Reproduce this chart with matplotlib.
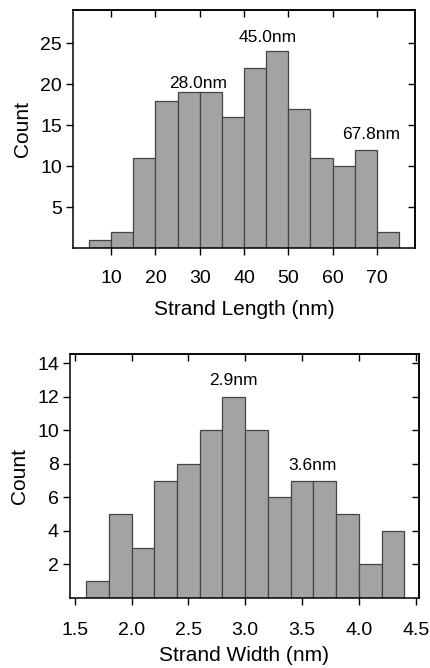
import numpy as np
import matplotlib
matplotlib.use('Agg')
import matplotlib.pyplot as plt

plt.rcParams['font.family'] = ['Liberation Sans', 'DejaVu Sans']

# ── Data ─────────────────────────────────────────────────────────────
length_edges = [5, 10, 15, 20, 25, 30, 35, 40, 45, 50, 55, 60, 65, 70, 75]
length_counts = [1, 2, 11, 18, 19, 19, 16, 22, 24, 17, 11, 10, 12, 2]
length_peaks = ['28.0nm', '45.0nm', '67.8nm']
length_peak_x = [29.6, 45.4, 68.6]
length_peak_y = [20.1, 25.7, 13.8]

width_edges = [1.6, 1.8, 2.0, 2.2, 2.4, 2.6, 2.8, 3.0, 3.2, 3.4, 3.6, 3.8, 4.0, 4.2, 4.4]
width_counts = [1, 5, 3, 7, 8, 10, 12, 10, 6, 7, 7, 5, 2, 4]
width_peaks = ['2.9nm', '3.6nm']
width_peak_x = [2.9, 3.59]
width_peak_y = [13.0, 7.9]

bar_face = '#a3a3a3'
bar_edge = '#444444'


def draw_hist(ax, edges, counts):
    edges = np.asarray(edges, dtype=float)
    ax.bar(edges[:-1], counts, width=np.diff(edges), align='edge',
           color=bar_face, edgecolor=bar_edge, linewidth=0.9)


def style_axes(ax, xpad):
    for s in ax.spines.values():
        s.set_linewidth(1.1)
    ax.tick_params(axis='x', which='major', direction='out', length=5,
                   width=1, labelsize=14, bottom=True, top=False, pad=xpad)
    ax.tick_params(axis='y', which='major', direction='out', length=5,
                   width=1, labelsize=14, left=True, right=False, pad=3)
    # inward ticks on top / right
    sec = ax.secondary_xaxis('top')
    sec.set_xticks(ax.get_xticks())
    sec.tick_params(direction='in', length=5, width=1, labeltop=False)
    sec.spines['top'].set_linewidth(1.1)
    secy = ax.secondary_yaxis('right')
    secy.set_yticks(ax.get_yticks())
    secy.tick_params(direction='in', length=5, width=1, labelright=False)
    secy.spines['right'].set_linewidth(1.1)


fig = plt.figure(figsize=(4.3, 6.68), dpi=100)

# ── Top panel: strand length ─────────────────────────────────────────
ax1 = fig.add_axes([0.1698, 0.6287, 0.7953, 0.357])
draw_hist(ax1, length_edges, length_counts)
ax1.set_xlim(1.4, 78.6)
ax1.set_ylim(0, 29.1)
ax1.set_xticks([10, 20, 30, 40, 50, 60, 70])
ax1.set_yticks([5, 10, 15, 20, 25])
style_axes(ax1, 11)
ax1.set_xlabel('Strand Length (nm)', fontsize=15, labelpad=9)
ax1.set_ylabel('Count', fontsize=15, labelpad=6)
for t, x, y in zip(length_peaks, length_peak_x, length_peak_y):
    ax1.text(x, y, t, ha='center', va='center', fontsize=12.5)

# ── Bottom panel: strand width ───────────────────────────────────────
ax2 = fig.add_axes([0.1628, 0.1048, 0.8116, 0.3653])
draw_hist(ax2, width_edges, width_counts)
ax2.set_xlim(1.459, 4.529)
ax2.set_ylim(0, 14.56)
ax2.set_xticks([1.5, 2.0, 2.5, 3.0, 3.5, 4.0, 4.5])
ax2.set_xticklabels(['1.5', '2.0', '2.5', '3.0', '3.5', '4.0', '4.5'])
ax2.set_yticks([2, 4, 6, 8, 10, 12, 14])
style_axes(ax2, 12)
ax2.set_xlabel('Strand Width (nm)', fontsize=15, labelpad=5)
ax2.set_ylabel('Count', fontsize=15, labelpad=6)
for t, x, y in zip(width_peaks, width_peak_x, width_peak_y):
    ax2.text(x, y, t, ha='center', va='center', fontsize=12.5)

fig.savefig('out.png', dpi=100)
